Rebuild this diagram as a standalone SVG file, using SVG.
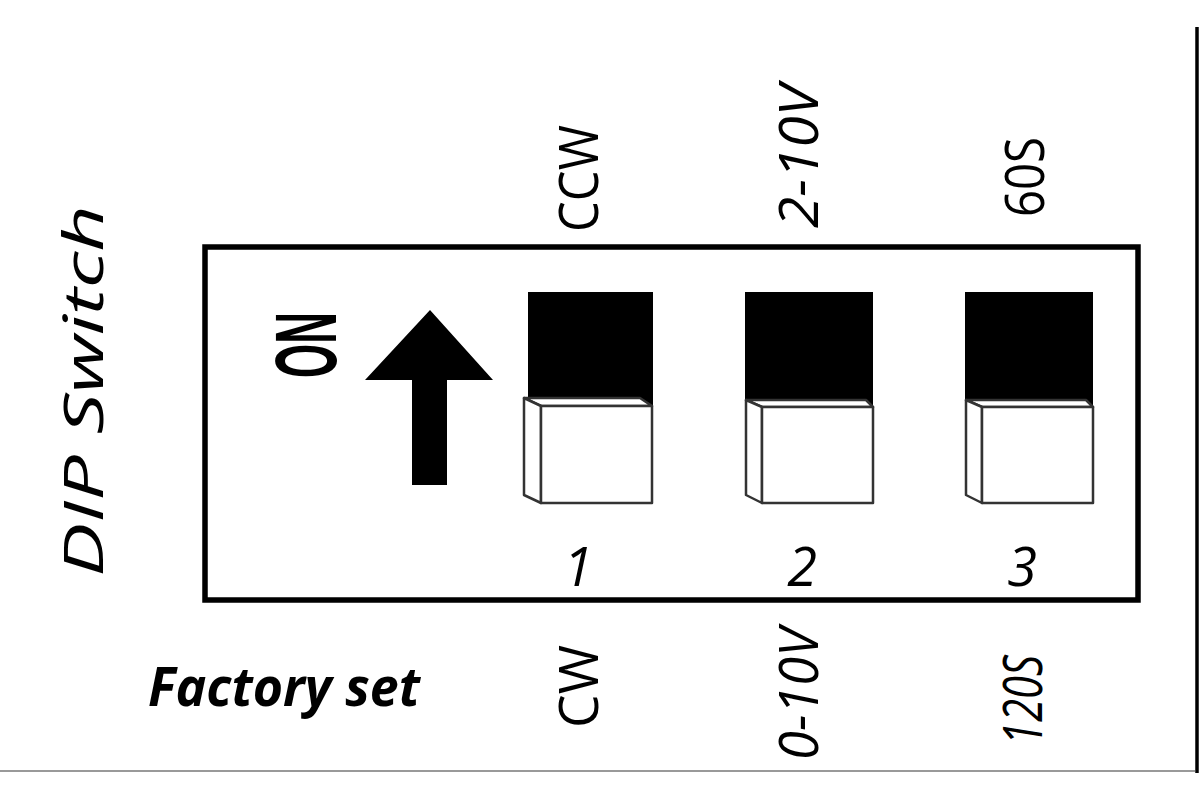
<svg xmlns="http://www.w3.org/2000/svg" width="1200" height="800" viewBox="0 0 1200 800">
<style>
.lbl{font-family:"Open Sans","Liberation Sans",sans-serif;font-size:54px;fill:#000}
.it{font-style:italic}
.key{fill:#fff;stroke:#333;stroke-width:2.5;stroke-linejoin:round}
.blk{fill:#000}
</style>
<rect width="1200" height="800" fill="#fff"/>
<line x1="0" y1="771" x2="1195" y2="771" stroke="#999" stroke-width="2"/>
<line x1="1197" y1="27" x2="1197" y2="773" stroke="#000" stroke-width="3.5"/>
<g id="title">
<text transform="translate(103,577) rotate(-90)" class="lbl it" font-size="84" textLength="372" lengthAdjust="spacingAndGlyphs">DIP Switch</text>
</g>
<g id="factory">
<text x="148" y="706" class="lbl it" font-weight="bold" font-size="48" textLength="272" lengthAdjust="spacingAndGlyphs">Factory set</text>
</g>
<g id="box">
<rect x="205" y="247" width="933" height="353" fill="none" stroke="#000" stroke-width="5.5"/>
</g>
<g id="on-label">
<text transform="translate(336,345) rotate(-90)" text-anchor="middle" font-family="Liberation Sans, Arial, sans-serif" font-weight="bold" font-size="88" textLength="66" lengthAdjust="spacingAndGlyphs">ON</text>
<polygon points="430,310 493,380 447,380 447,485 412,485 412,380 365,380" fill="#000"/>
</g>
<g id="switch1">
<rect class="blk" x="528" y="292" width="125" height="114"/>
<polygon class="key" points="524,398 640,398 652,406 541,406"/>
<polygon class="key" points="524,398 541,406 541,503 524,495"/>
<rect class="key" x="541" y="406" width="111" height="97"/>
<text x="578" y="586" class="lbl it" font-size="68" text-anchor="middle">1</text>
</g>
<g id="switch2">
<rect class="blk" x="745" y="292" width="128" height="114"/>
<polygon class="key" points="746,400 866,400 873,407 762,407"/>
<polygon class="key" points="746,400 762,407 762,503 746,495"/>
<rect class="key" x="762" y="407" width="111" height="96"/>
<text x="802" y="586" class="lbl it" font-size="68" text-anchor="middle">2</text>
</g>
<g id="switch3">
<rect class="blk" x="965" y="292" width="128" height="114"/>
<polygon class="key" points="966,400 1086,400 1093,407 982,407"/>
<polygon class="key" points="966,400 982,407 982,503 966,495"/>
<rect class="key" x="982" y="407" width="111" height="96"/>
<text x="1022" y="586" class="lbl it" font-size="68" text-anchor="middle">3</text>
</g>
<g id="labels">
<text transform="translate(598,232) rotate(-90)" class="lbl" textLength="107" lengthAdjust="spacingAndGlyphs">CCW</text>
<text transform="translate(818,228) rotate(-90)" class="lbl it" textLength="143" lengthAdjust="spacingAndGlyphs">2-10V</text>
<text transform="translate(1044,217) rotate(-90)" class="lbl" textLength="80" lengthAdjust="spacingAndGlyphs">60S</text>
<text transform="translate(598,728) rotate(-90)" class="lbl" textLength="83" lengthAdjust="spacingAndGlyphs">CW</text>
<text transform="translate(818,760) rotate(-90)" class="lbl it" textLength="132" lengthAdjust="spacingAndGlyphs">0-10V</text>
<text transform="translate(1042,745) rotate(-90)" class="lbl it" textLength="90" lengthAdjust="spacingAndGlyphs">120S</text>
</g>
</svg>
